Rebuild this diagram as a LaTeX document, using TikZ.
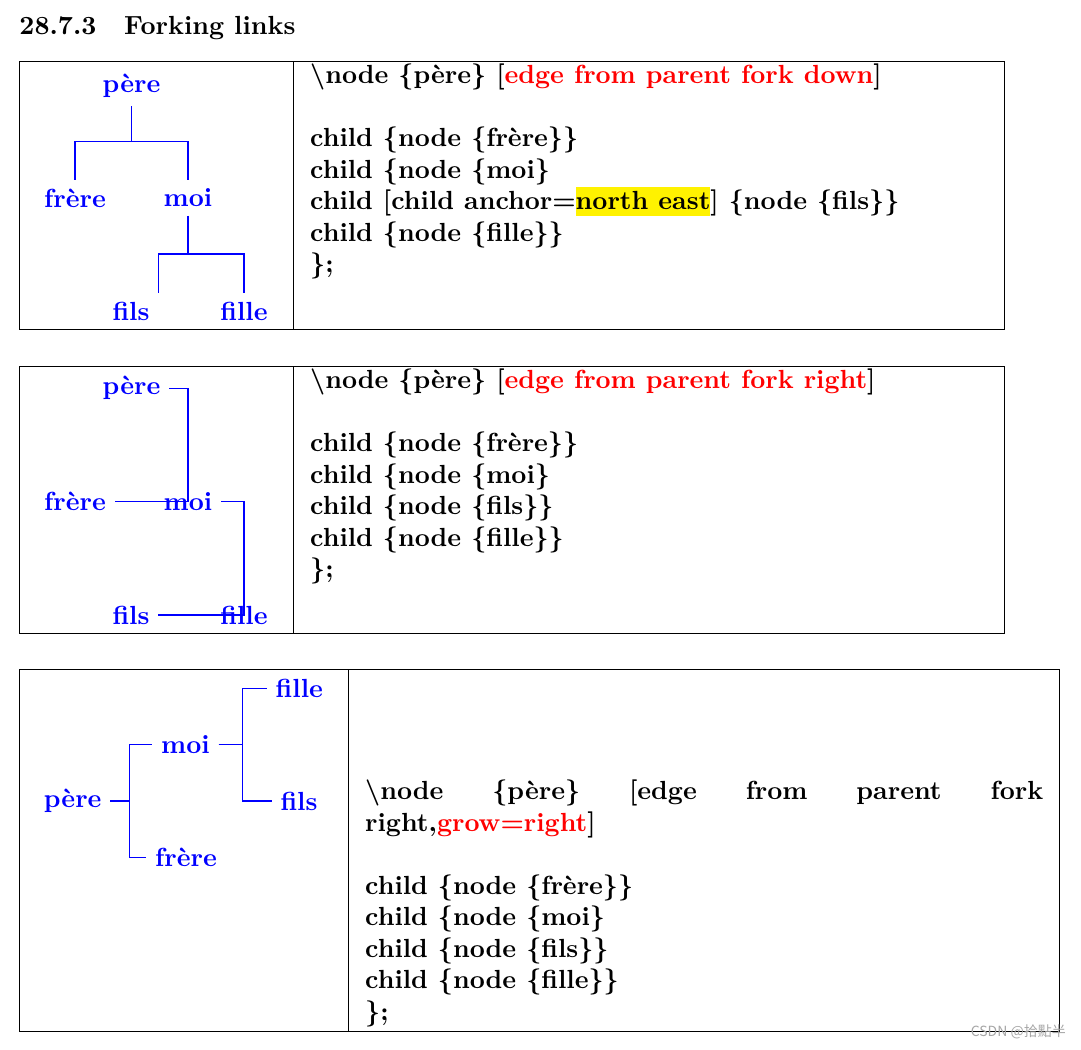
\documentclass[tikz,border=0pt]{standalone}
\usepackage{fontspec}
\newfontfamily\cjk{Noto Sans CJK SC}
\font\tb="[lmroman10-bold.otf]" at 26.2pt
\definecolor{tblue}{RGB}{0,0,255}
\newcommand\hlbox[1]{{\setlength\fboxsep{0pt}\colorbox{yellow}{\rule[-6.5pt]{0pt}{28.7pt}#1}}}
\tikzset{
  tree/.style={font=\tb, text=tblue, inner sep=8.7pt},
  code/.style={font=\tb, text=black, anchor=base west, inner sep=0pt},
  link/.style={draw=tblue, line width=1.3pt},
  frame/.style={draw=black, line width=1pt},
}
\begin{document}
\begin{tikzpicture}[x=1pt,y=-1pt]
\useasboundingbox (0,0) rectangle (1081,1049);

% title
\node[code] (title) at (19.3,34.3) {28.7.3\hspace{27.7pt}Forking links};

% frames
\draw[frame] (19,62) rectangle (1004,329);
\draw[frame] (293,62) -- (293,329);
\draw[frame] (19,366) rectangle (1004,633);
\draw[frame] (293,366) -- (293,633);
\draw[frame] (19,669) rectangle (1059,1031);
\draw[frame] (348,669) -- (348,1031);

% tree 1 (fork down)
\node[tree] (p1) at (131.5,85.5) {père};
\node[tree] (fr1) at (75,198) {frère};
\node[tree] (m1) at (188,198) {moi};
\node[tree] (fs1) at (131,311) {fils};
\node[tree] (fl1) at (244,311) {fille};
\draw[link] (p1.south) -- ++(0,35) -| (fr1.north);
\draw[link] (p1.south) -- ++(0,35) -| (m1.north);
\draw[link] (m1.south) -- ++(0,38) -| (fs1.north east);
\draw[link] (m1.south) -- ++(0,38) -| (fl1.north);

% code 1
\node[code] (a1) at (310,83.5) {\textbackslash node \{père\} [\textcolor{red}{edge from parent fork down}]};
\node[code] (a2) at (310,146.5) {child \{node \{frère\}\}};
\node[code] (a3) at (310,178) {child \{node \{moi\}};
\node[code] (a4) at (310,209.5) {child [child anchor=\hlbox{north east}] \{node \{fils\}\}};
\node[code] (a5) at (310,241) {child \{node \{fille\}\}};
\node[code] (a6) at (310,272.5) {\};};

% tree 2 (fork right, grow down)
\node[tree] (p2) at (131.5,388.3) {père};
\node[tree] (fr2) at (75,501.7) {frère};
\node[tree] (m2) at (188,501.7) {moi};
\node[tree] (fs2) at (131,615) {fils};
\node[tree] (fl2) at (244,615) {fille};
\draw[link] (p2.east) -- (p2.east -| m2.center) |- (fr2.east);
\draw[link] (p2.east) -- (p2.east -| m2.center) -- (m2.center);
\draw[link] (m2.east) -- (m2.east -| fl2.center) |- (fs2.east);
\draw[link] (m2.east) -- (m2.east -| fl2.center) -- (fl2.center);

% code 2
\node[code] (b1) at (310,388.5) {\textbackslash node \{père\} [\textcolor{red}{edge from parent fork right}]};
\node[code] (b2) at (310,451.5) {child \{node \{frère\}\}};
\node[code] (b3) at (310,483) {child \{node \{moi\}};
\node[code] (b4) at (310,514.5) {child \{node \{fils\}\}};
\node[code] (b5) at (310,546) {child \{node \{fille\}\}};
\node[code] (b6) at (310,577.5) {\};};

% tree 3 (fork right, grow right)
\node[tree] (p3) at (72.7,801) {père};
\node[tree] (m3) at (185.5,744.3) {moi};
\node[tree] (fr3) at (186,857.7) {frère};
\node[tree] (fl3) at (299.3,688.3) {fille};
\node[tree] (fs3) at (299,801) {fils};
\draw[link] (p3.east) -- ++(19,0) |- (m3.west);
\draw[link] (p3.east) -- ++(19,0) |- (fr3.west);
\draw[link] (m3.east) -- ++(24,0) |- (fl3.west);
\draw[link] (m3.east) -- ++(24,0) |- (fs3.west);

% code 3
\node[code] (c1) at (365,799.5) {\makebox[678pt][l]{\textbackslash node\hfill\{père\}\hfill[edge\hfill from\hfill parent\hfill fork}};
\node[code] (c2) at (365,831) {right,\textcolor{red}{grow=right}]};
\node[code] (c3) at (365,894) {child \{node \{frère\}\}};
\node[code] (c4) at (365,925.5) {child \{node \{moi\}};
\node[code] (c5) at (365,957) {child \{node \{fils\}\}};
\node[code] (c6) at (365,988.5) {child \{node \{fille\}\}};
\node[code] (c7) at (365,1020) {\};};

% watermark
\node[font=\cjk\fontsize{14}{16}\selectfont, text=black!35, anchor=base east, inner sep=0pt] (wm) at (1066,1036) {CSDN @拾點半};
\end{tikzpicture}
\end{document}
